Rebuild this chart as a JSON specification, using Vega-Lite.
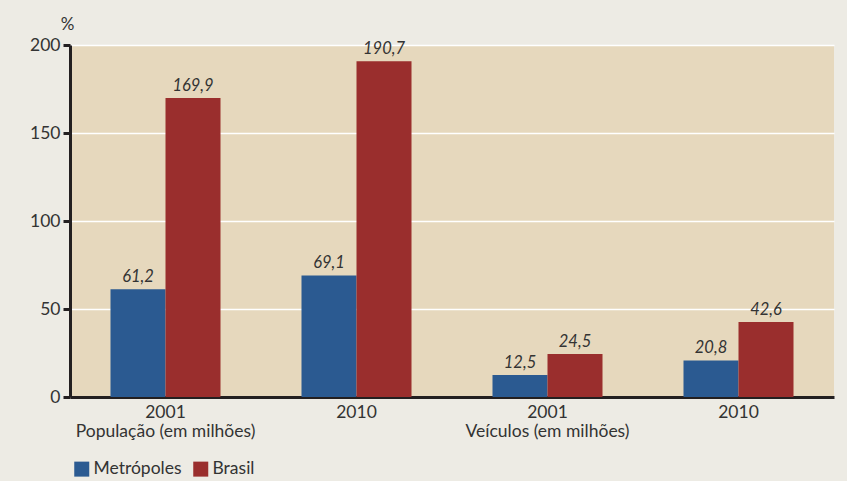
{
  "$schema": "https://vega.github.io/schema/vega-lite/v6.json",
  "width": 764,
  "height": 352,
  "autosize": {"type": "none"},
  "padding": {"left": 70, "top": 45, "right": 13, "bottom": 84},
  "background": "#edebe4",
  "config": {
    "locale": {"number": {"decimal": ",", "thousands": ".", "grouping": [3], "currency": ["R$", ""]}},
    "font": "Lato",
    "view": {"fill": "#e6d8bd", "stroke": null},
    "axis": {"labelColor": "#333333", "titleColor": "#333333", "labelFont": "Lato", "titleFont": "Lato"}
  },
  "data": {
    "values": [
      {"cat": "P2001", "serie": "Metrópoles", "valor": 61.2},
      {"cat": "P2001", "serie": "Brasil", "valor": 169.9},
      {"cat": "P2010", "serie": "Metrópoles", "valor": 69.1},
      {"cat": "P2010", "serie": "Brasil", "valor": 190.7},
      {"cat": "V2001", "serie": "Metrópoles", "valor": 12.5},
      {"cat": "V2001", "serie": "Brasil", "valor": 24.5},
      {"cat": "V2010", "serie": "Metrópoles", "valor": 20.8},
      {"cat": "V2010", "serie": "Brasil", "valor": 42.6}
    ]
  },
  "encoding": {
    "x": {
      "field": "cat",
      "type": "nominal",
      "sort": ["P2001", "P2010", "V2001", "V2010"],
      "scale": {"paddingInner": 0.424, "paddingOuter": 0.212},
      "axis": {
        "title": null,
        "labelAngle": 0,
        "labelFontSize": 17.5,
        "labelPadding": 6,
        "labelLineHeight": 19,
        "ticks": false,
        "domainColor": "#231f20",
        "domainWidth": 3,
        "labelExpr": "datum.value == 'P2001' ? ['2001', 'População (em milhões)'] : datum.value == 'V2001' ? ['2001', 'Veículos (em milhões)'] : '2010'"
      }
    },
    "xOffset": {"field": "serie", "type": "nominal", "sort": ["Metrópoles", "Brasil"], "scale": {"paddingInner": 0}},
    "y": {
      "field": "valor",
      "type": "quantitative",
      "scale": {"domain": [0, 200], "nice": false},
      "axis": {
        "values": [0, 50, 100, 150, 200],
        "title": "%",
        "titleAngle": 0,
        "titleAlign": "center",
        "titleBaseline": "alphabetic",
        "titleX": -3,
        "titleY": -16,
        "titleFontSize": 17,
        "titleFontWeight": "normal",
        "labelFontSize": 17.5,
        "labelPadding": 3,
        "tickSize": 7,
        "tickWidth": 3,
        "tickColor": "#231f20",
        "domainColor": "#231f20",
        "domainWidth": 3,
        "gridColor": "#ffffff",
        "gridWidth": 1.5
      }
    }
  },
  "layer": [
    {
      "mark": {"type": "bar"},
      "encoding": {
        "color": {
          "field": "serie",
          "type": "nominal",
          "sort": ["Metrópoles", "Brasil"],
          "scale": {"domain": ["Metrópoles", "Brasil"], "range": ["#2b5a91", "#9a2e2d"]},
          "legend": {
            "title": null,
            "orient": "none",
            "direction": "horizontal",
            "legendX": 3,
            "legendY": 415,
            "symbolType": "square",
            "symbolSize": 225,
            "symbolStrokeWidth": 0,
            "symbolOpacity": 1,
            "labelFontSize": 17.5,
            "labelColor": "#333333",
            "labelOffset": 3,
            "columnPadding": 10
          }
        }
      }
    },
    {
      "mark": {"type": "text", "dy": -12, "fontStyle": "italic", "fontSize": 16.5, "color": "#333333"},
      "encoding": {
        "text": {"field": "valor", "type": "quantitative", "format": ".1f"}
      }
    }
  ]
}
